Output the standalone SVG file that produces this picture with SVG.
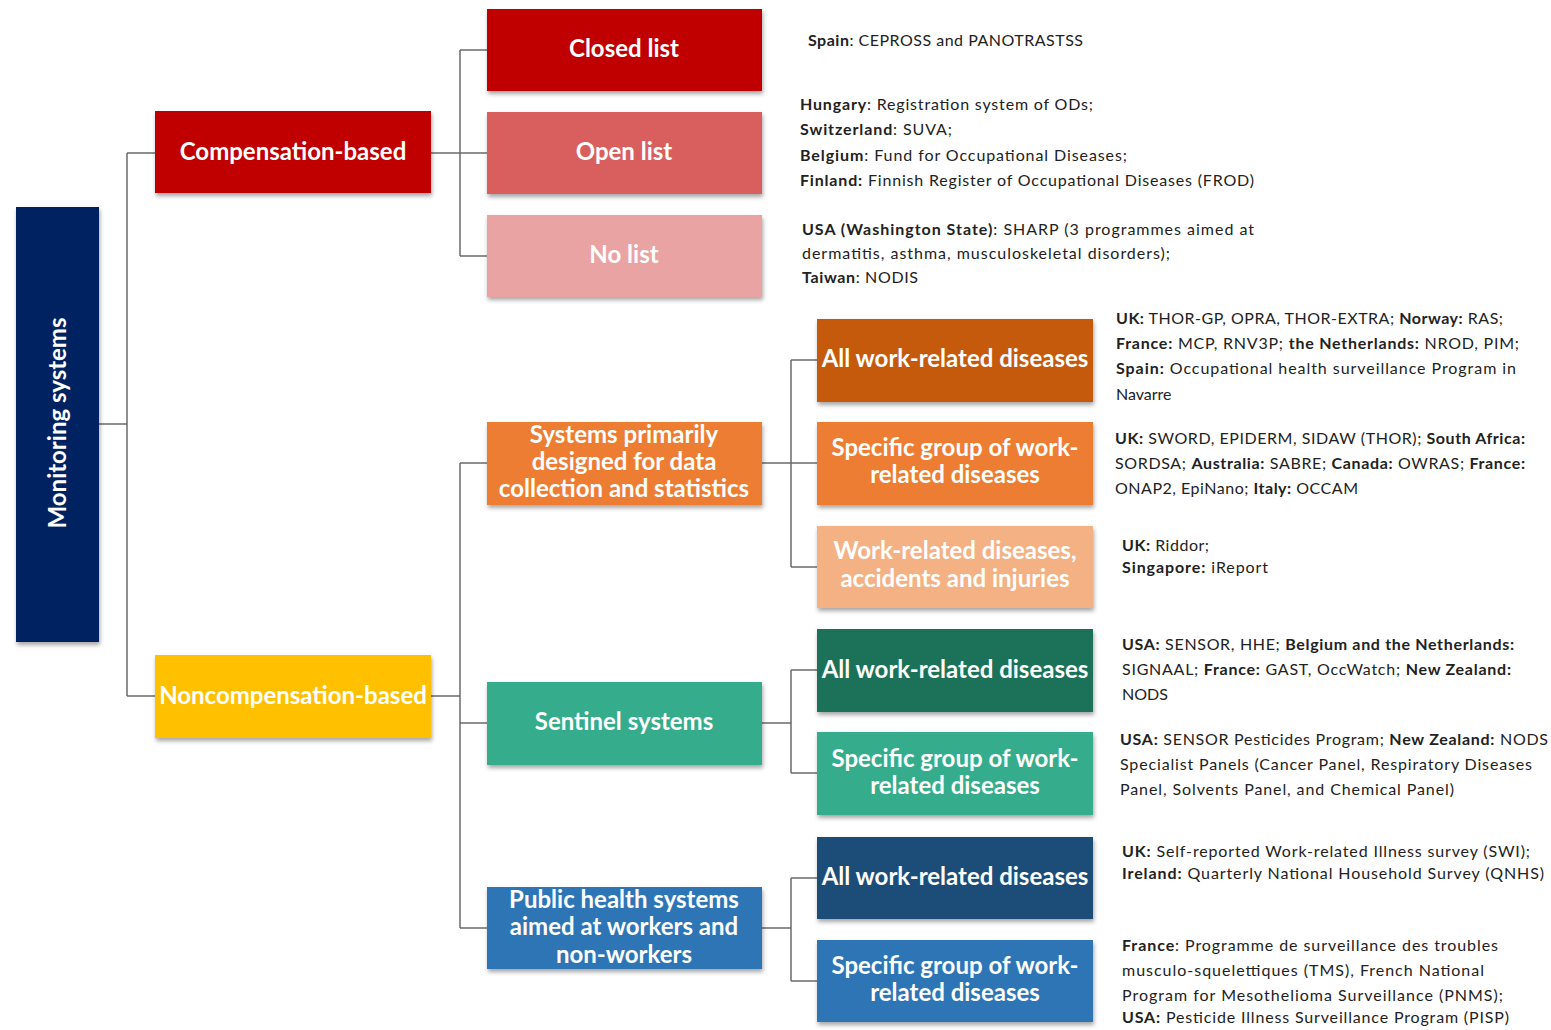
<svg xmlns="http://www.w3.org/2000/svg" width="1551" height="1030" viewBox="0 0 1551 1030">
<defs>
<filter id="sh" x="-10%" y="-10%" width="120%" height="130%">
<feDropShadow dx="1" dy="3" stdDeviation="2" flood-color="#000" flood-opacity="0.35"/>
</filter>
<style>
.box{filter:url(#sh);}
.lbl{font-family:Lato,"Liberation Sans",sans-serif;font-weight:700;font-size:24px;fill:#fff;text-anchor:middle;}
.d{font-family:Lato,"Liberation Sans",sans-serif;font-size:16px;fill:#222;}
.b{font-weight:700;}
.cn{fill:none;stroke:#6b6b6b;stroke-width:1.5;}
</style>
</defs>
<rect width="1551" height="1030" fill="#fff"/>

<g id="connectors">
<path class="cn" d="M99 424H127M127 153V696M127 153H155M127 696H155"/>
<path class="cn" d="M431 153H487M460 50V256M460 50H487M460 256H487"/>
<path class="cn" d="M431 696H460M460 463V928M460 463H487M460 723H487M460 928H487"/>
<path class="cn" d="M762 463H817M791 360V567M791 360H817M791 567H817"/>
<path class="cn" d="M762 723H791M791 670V773M791 670H817M791 773H817"/>
<path class="cn" d="M762 928H791M791 878V981M791 878H817M791 981H817"/>
</g>

<g id="root">
<rect class="box" x="16" y="207" width="83" height="435" fill="#002060"/>
<text class="lbl" transform="translate(66 423) rotate(-90)">Monitoring systems</text>
</g>

<g id="compensation">
<rect class="box" x="155" y="111" width="276" height="82" fill="#C00000"/>
<text class="lbl" x="293" y="160">Compensation-based</text>
</g>
<g id="noncompensation">
<rect class="box" x="155" y="655" width="276" height="83" fill="#FFC000"/>
<text class="lbl" x="293" y="704">Noncompensation-based</text>
</g>

<g id="closed-list">
<rect class="box" x="487" y="9" width="275" height="82" fill="#C00000"/>
<text class="lbl" x="624" y="57">Closed list</text>
</g>
<g id="open-list">
<rect class="box" x="487" y="112" width="275" height="82" fill="#D95F5E"/>
<text class="lbl" x="624" y="160">Open list</text>
</g>
<g id="no-list">
<rect class="box" x="487" y="215" width="275" height="82" fill="#E9A3A2"/>
<text class="lbl" x="624" y="263">No list</text>
</g>

<g id="data-collection">
<rect class="box" x="487" y="422" width="275" height="83" fill="#ED7D31"/>
<text class="lbl" x="624" y="443">Systems primarily</text>
<text class="lbl" x="624" y="470">designed for data</text>
<text class="lbl" x="624" y="497">collection and statistics</text>
</g>
<g id="sentinel">
<rect class="box" x="487" y="682" width="275" height="83" fill="#35AC8C"/>
<text class="lbl" x="624" y="730">Sentinel systems</text>
</g>
<g id="public-health">
<rect class="box" x="487" y="887" width="275" height="82" fill="#2E75B6"/>
<text class="lbl" x="624" y="908">Public health systems</text>
<text class="lbl" x="624" y="935">aimed at workers and</text>
<text class="lbl" x="624" y="963">non-workers</text>
</g>

<g id="dc-all">
<rect class="box" x="817" y="319" width="276" height="83" fill="#C55A11"/>
<text class="lbl" x="955" y="367">All work-related diseases</text>
</g>
<g id="dc-specific">
<rect class="box" x="817" y="422" width="276" height="83" fill="#ED7D31"/>
<text class="lbl" x="955" y="456">Specific group of work-</text>
<text class="lbl" x="955" y="483">related diseases</text>
</g>
<g id="dc-accidents">
<rect class="box" x="817" y="526" width="276" height="82" fill="#F4B183"/>
<text class="lbl" x="955" y="559">Work-related diseases,</text>
<text class="lbl" x="955" y="587">accidents and injuries</text>
</g>

<g id="sen-all">
<rect class="box" x="817" y="629" width="276" height="83" fill="#1F7258"/>
<text class="lbl" x="955" y="678">All work-related diseases</text>
</g>
<g id="sen-specific">
<rect class="box" x="817" y="732" width="276" height="83" fill="#35AC8C"/>
<text class="lbl" x="955" y="767">Specific group of work-</text>
<text class="lbl" x="955" y="794">related diseases</text>
</g>

<g id="ph-all">
<rect class="box" x="817" y="837" width="276" height="82" fill="#1F4E79"/>
<text class="lbl" x="955" y="885">All work-related diseases</text>
</g>
<g id="ph-specific">
<rect class="box" x="817" y="940" width="276" height="82" fill="#2E75B6"/>
<text class="lbl" x="955" y="974">Specific group of work-</text>
<text class="lbl" x="955" y="1001">related diseases</text>
</g>

<g id="descriptions">
<text class="d" x="808" y="46" textLength="275" lengthAdjust="spacing"><tspan class="b">Spain</tspan>: CEPROSS and PANOTRASTSS</text>

<text class="d" x="800" y="110" textLength="293" lengthAdjust="spacing"><tspan class="b">Hungary</tspan>: Registration system of ODs;</text>
<text class="d" x="800" y="135" textLength="152" lengthAdjust="spacing"><tspan class="b">Switzerland</tspan>: SUVA;</text>
<text class="d" x="800" y="161" textLength="327" lengthAdjust="spacing"><tspan class="b">Belgium</tspan>: Fund for Occupational  Diseases;</text>
<text class="d" x="800" y="186" textLength="454" lengthAdjust="spacing"><tspan class="b">Finland:</tspan> Finnish Register of Occupational  Diseases (FROD)</text>

<text class="d" x="802" y="235" textLength="452" lengthAdjust="spacing"><tspan class="b">USA (Washington  State)</tspan>: SHARP (3 programmes aimed at</text>
<text class="d" x="802" y="259" textLength="368" lengthAdjust="spacing">dermatitis, asthma, musculoskeletal disorders);</text>
<text class="d" x="802" y="283" textLength="116" lengthAdjust="spacing"><tspan class="b">Taiwan</tspan>: NODIS</text>

<text class="d" x="1116" y="324" textLength="387" lengthAdjust="spacing"><tspan class="b">UK:</tspan> THOR-GP, OPRA, THOR-EXTRA; <tspan class="b">Norway:</tspan> RAS;</text>
<text class="d" x="1116" y="349" textLength="403" lengthAdjust="spacing"><tspan class="b">France:</tspan> MCP, RNV3P; <tspan class="b">the Netherlands:</tspan> NROD, PIM;</text>
<text class="d" x="1116" y="374" textLength="400" lengthAdjust="spacing"><tspan class="b">Spain:</tspan> Occupational health surveillance Program in</text>
<text class="d" x="1116" y="400">Navarre</text>

<text class="d" x="1115" y="444" textLength="410" lengthAdjust="spacing"><tspan class="b">UK:</tspan> SWORD, EPIDERM, SIDAW (THOR); <tspan class="b">South Africa:</tspan></text>
<text class="d" x="1115" y="469" textLength="410" lengthAdjust="spacing">SORDSA; <tspan class="b">Australia:</tspan> SABRE; <tspan class="b">Canada:</tspan> OWRAS; <tspan class="b">France:</tspan></text>
<text class="d" x="1115" y="494" textLength="243" lengthAdjust="spacing">ONAP2, EpiNano; <tspan class="b">Italy:</tspan> OCCAM</text>

<text class="d" x="1122" y="551" textLength="87" lengthAdjust="spacing"><tspan class="b">UK:</tspan> Riddor;</text>
<text class="d" x="1122" y="573" textLength="146" lengthAdjust="spacing"><tspan class="b">Singapore:</tspan> iReport</text>

<text class="d" x="1122" y="650" textLength="392" lengthAdjust="spacing"><tspan class="b">USA:</tspan> SENSOR, HHE; <tspan class="b">Belgium and the Netherlands:</tspan></text>
<text class="d" x="1122" y="675" textLength="389" lengthAdjust="spacing">SIGNAAL; <tspan class="b">France:</tspan> GAST, OccWatch; <tspan class="b">New Zealand:</tspan></text>
<text class="d" x="1122" y="700">NODS</text>

<text class="d" x="1120" y="745" textLength="428" lengthAdjust="spacing"><tspan class="b">USA:</tspan> SENSOR Pesticides Program; <tspan class="b">New Zealand:</tspan> NODS</text>
<text class="d" x="1120" y="770" textLength="412" lengthAdjust="spacing">Specialist Panels (Cancer Panel, Respiratory Diseases</text>
<text class="d" x="1120" y="795" textLength="334" lengthAdjust="spacing">Panel, Solvents Panel, and Chemical Panel)</text>

<text class="d" x="1122" y="857" textLength="408" lengthAdjust="spacing"><tspan class="b">UK:</tspan> Self-reported Work-related Illness survey (SWI);</text>
<text class="d" x="1122" y="879" textLength="422" lengthAdjust="spacing"><tspan class="b">Ireland:</tspan> Quarterly National Household Survey (QNHS)</text>

<text class="d" x="1122" y="951" textLength="376" lengthAdjust="spacing"><tspan class="b">France</tspan>: Programme de surveillance des troubles</text>
<text class="d" x="1122" y="976" textLength="362" lengthAdjust="spacing">musculo-squelettiques (TMS), French National</text>
<text class="d" x="1122" y="1001" textLength="381" lengthAdjust="spacing">Program for Mesothelioma Surveillance (PNMS);</text>
<text class="d" x="1122" y="1023" textLength="387" lengthAdjust="spacing"><tspan class="b">USA:</tspan> Pesticide Illness Surveillance Program (PISP)</text>
</g>
</svg>
